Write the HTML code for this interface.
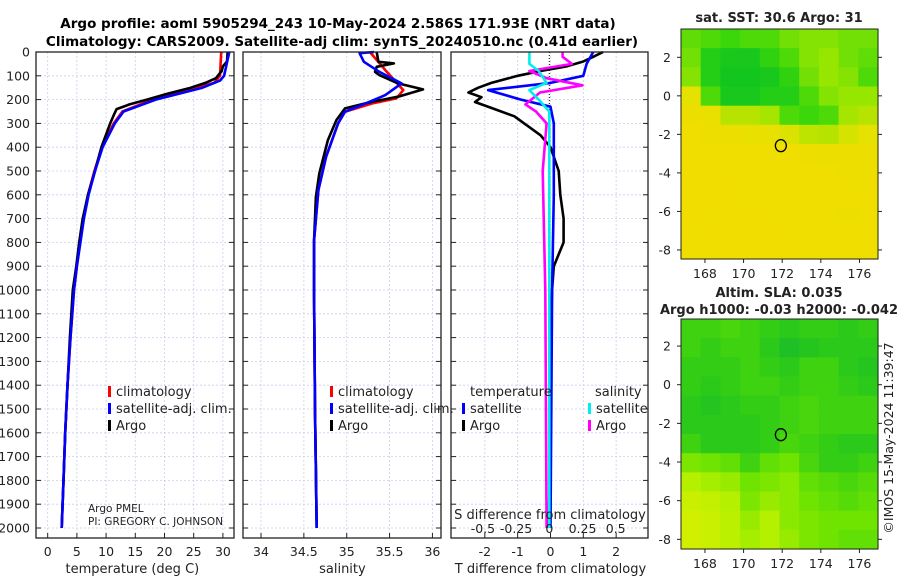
<!DOCTYPE html>
<html><head><meta charset="utf-8">
<style>
html,body{margin:0;padding:0;background:#fff;}
svg{display:block;font-family:"DejaVu Sans","Liberation Sans",sans-serif;}
</style></head>
<body>
<svg id="chart" width="900" height="580" viewBox="0 0 900 580" xmlns="http://www.w3.org/2000/svg">
<rect width="900" height="580" fill="#fff"/>
<text x="338" y="28" font-size="13.5" font-weight="bold" text-anchor="middle">Argo profile: aoml 5905294_243 10-May-2024 2.586S 171.93E (NRT data)</text>
<text x="342" y="46" font-size="13.5" font-weight="bold" text-anchor="middle">Climatology: CARS2009. Satellite-adj clim: synTS_20240510.nc (0.41d earlier)</text>
<g id="g"></g>
</svg>
<script>
// ---------- profile data ----------
const tArgoD = [0,40,60,80,110,130,150,175,200,220,240,260,300,400,500,600,700,800,900,1000,1200,1400,1600,1800,2000];
const tArgoV = [30.8,30.7,30.0,29.8,28.8,27.0,24.5,20.5,17.0,14.0,11.8,11.4,10.7,9.2,8.1,6.9,6.0,5.4,4.9,4.3,3.8,3.4,3.0,2.7,2.4];
const tClimD = [0,100,130,150,200,250,300,400,500,600,700,800,900,1000,1200,1400,1600,1800,2000];
const tClimV = [29.7,29.5,28.5,25.5,18.0,12.8,11.3,9.3,8.0,6.9,6.1,5.5,5.0,4.5,3.9,3.4,3.0,2.7,2.4];
const tSatD = [0,100,120,150,200,250,300,400,500,600,700,800,900,1000,1200,1400,1600,1800,2000];
const tSatV = [31.1,30.2,29.5,26.5,18.5,13.0,11.5,9.4,8.1,7.0,6.2,5.6,5.0,4.5,3.9,3.4,3.0,2.7,2.4];

const sArgoD = [0,41,48,62,83,97,132,157,188,209,237,286,370,510,608,790,1030,1500,2000];
const sArgoV = [35.35,35.37,35.55,35.35,35.33,35.38,35.6,35.89,35.6,35.3,34.98,34.88,34.78,34.68,34.64,34.62,34.62,34.63,34.65];
const sClimD = [0,76,160,195,216,251,300,440,580,790,1030,1500,2000];
const sClimV = [35.27,35.45,35.66,35.58,35.3,34.98,34.9,34.76,34.67,34.62,34.62,34.63,34.65];
const sSatD = [0,5,41,83,132,181,216,251,300,440,580,790,1030,1500,2000];
const sSatV = [35.32,35.15,35.2,35.38,35.64,35.45,35.22,34.98,34.9,34.76,34.67,34.62,34.62,34.63,34.65];

const dTArgoD = [0,20,40,60,80,100,130,150,170,190,210,240,270,300,350,400,500,600,700,800,900,1000,1200,1500,2000];
const dTArgoV = [1.6,1.3,1.0,0.5,-0.3,-1.0,-1.8,-2.2,-2.5,-2.1,-2.3,-1.7,-1.1,-0.8,-0.3,0.0,0.25,0.3,0.4,0.4,0.1,0.05,0.0,0.0,-0.05];
const dTSatD = [0,50,100,130,160,200,230,300,400,600,1000,2000];
const dTSatV = [1.3,1.1,1.0,0.0,-1.9,-0.9,0.0,0.1,0.1,0.1,0.05,0.0];
const dSArgoD = [0,20,50,80,110,140,170,220,250,300,500,1000,2000];
const dSArgoV = [0.1,0.1,0.17,-0.15,-0.02,0.25,-0.07,-0.18,-0.1,-0.02,-0.05,-0.03,-0.02];
const dSSatD = [0,50,80,130,160,200,250,400,1000,2000];
const dSSatV = [-0.15,-0.15,-0.08,-0.02,-0.15,-0.08,0.0,0.0,0.0,0.0];

const depthTicks = [0,100,200,300,400,500,600,700,800,900,1000,1100,1200,1300,1400,1500,1600,1700,1800,1900,2000];
const tTicks = [0,5,10,15,20,25,30];
const sTicks = [34,34.5,35,35.5,36];
const sTickLbl = ["34","34.5","35","35.5","36"];
const dTTicks = [-2,-1,0,1,2];
const dSTicks = [-0.5,-0.25,0,0.25,0.5];
const dSTickLbl = ["-0.5","-0.25","0","0.25","0.5"];

// ---------- map data (rows top->bottom, cols west->east) ----------
const sstGrid = [
[0.35,0.3,0.25,0.3,0.3,0.4,0.45,0.45,0.4,0.4],
[0.4,0.15,0.1,0.1,0.2,0.3,0.45,0.5,0.4,0.35],
[0.45,0.15,0.08,0.08,0.1,0.2,0.4,0.5,0.45,0.3],
[0.75,0.3,0.1,0.1,0.15,0.15,0.3,0.45,0.5,0.5],
[0.85,0.8,0.6,0.6,0.55,0.3,0.25,0.3,0.55,0.6],
[0.9,0.88,0.85,0.82,0.78,0.72,0.62,0.6,0.7,0.75],
[0.92,0.92,0.9,0.9,0.9,0.9,0.88,0.85,0.85,0.85],
[0.93,0.93,0.92,0.92,0.92,0.92,0.9,0.9,0.88,0.88],
[0.93,0.93,0.93,0.92,0.92,0.92,0.92,0.9,0.9,0.9],
[0.93,0.92,0.93,0.93,0.92,0.92,0.92,0.9,0.88,0.9],
[0.92,0.93,0.93,0.93,0.93,0.92,0.92,0.92,0.9,0.9],
[0.9,0.92,0.93,0.93,0.93,0.93,0.92,0.92,0.92,0.9]];
const slaGrid = [
[0.3,0.3,0.35,0.3,0.25,0.2,0.25,0.25,0.2,0.25],
[0.3,0.25,0.3,0.3,0.2,0.1,0.15,0.2,0.2,0.2],
[0.25,0.25,0.25,0.3,0.25,0.2,0.3,0.3,0.2,0.15],
[0.25,0.2,0.25,0.3,0.3,0.25,0.3,0.3,0.25,0.2],
[0.2,0.15,0.2,0.25,0.25,0.3,0.35,0.3,0.3,0.3],
[0.2,0.2,0.2,0.2,0.25,0.3,0.35,0.3,0.3,0.3],
[0.3,0.2,0.2,0.2,0.25,0.35,0.3,0.25,0.2,0.2],
[0.55,0.5,0.45,0.3,0.45,0.5,0.35,0.25,0.25,0.3],
[0.75,0.7,0.65,0.5,0.55,0.6,0.45,0.4,0.35,0.4],
[0.9,0.85,0.75,0.55,0.65,0.6,0.5,0.45,0.4,0.45],
[0.95,0.9,0.8,0.65,0.75,0.6,0.55,0.5,0.5,0.5],
[0.95,0.9,0.8,0.7,0.75,0.65,0.55,0.5,0.45,0.45]];
const lonTicks = [168,170,172,174,176];
const latTicks = [2,0,-2,-4,-6,-8];
const floatLon = [171.93];
const floatLat = [-2.586];

const NS="http://www.w3.org/2000/svg";
const G=document.getElementById('g');
function mk(tag,attrs,parent){const e=document.createElementNS(NS,tag);for(const k in attrs)e.setAttribute(k,attrs[k]);(parent||G).appendChild(e);return e;}
function txt(s,attrs,parent){const e=mk('text',attrs,parent);e.textContent=s;return e;}

const Y0=52, Y1=538, DMAX=(Y1-Y0)/0.238;
const yD = d => Y0 + d*0.238;

function panel(name,x0,x1,vmin,vmax){
  const sx = v => x0 + (v-vmin)/(vmax-vmin)*(x1-x0);
  return {name,x0,x1,sx};
}
const P1 = panel('temperature-panel',36,234,-2,31.9);
const P2 = panel('salinity-panel',243,441,33.79,36.1);
const P3 = panel('difference-panel',451,648,-3.03,2.97);
const sxS3 = v => 549.3 + v*132.8;

function grid(P,ticks){
  const g=mk('g',{});
  
  
  ticks.forEach(t=>{const x=P.sx(t);mk('line',{x1:x,x2:x,y1:Y0,y2:Y1,stroke:'#c8cff0','stroke-width':0.8,'stroke-dasharray':'2,2'},g);});
  depthTicks.forEach(d=>{const y=yD(d);mk('line',{x1:P.x0,x2:P.x1,y1:y,y2:y,stroke:'#c8cff0','stroke-width':0.8,'stroke-dasharray':'2,2'},g);
    mk('line',{x1:P.x0,x2:P.x0+5,y1:y,y2:y,stroke:'#222'},g);mk('line',{x1:P.x1-5,x2:P.x1,y1:y,y2:y,stroke:'#222'},g);});
}
function frame(P){
  const r=mk('rect',{x:P.x0,y:Y0,width:P.x1-P.x0,height:Y1-Y0,fill:'none',stroke:'#222','stroke-width':1.3});
  
  
}
function xTicks(P,ticks,labels,y){
  ticks.forEach((t,i)=>{const x=P.sx(t);
    mk('line',{x1:x,x2:x,y1:Y1,y2:Y1-5,stroke:'#222'});
    const e=txt(labels?labels[i]:String(t),{x:x,y:y,'font-size':12.5,'text-anchor':'middle',fill:'#222'});
    
    
  });
}
function line(xs,ds,sx,color,name){
  const pts=xs.map((v,i)=>sx(v).toFixed(1)+','+yD(ds[i]).toFixed(1)).join(' ');
  const p=mk('polyline',{points:pts,fill:'none',stroke:color,'stroke-width':2.6,'stroke-linejoin':'round'});
  
  
}

[[P1,tTicks],[P2,sTicks],[P3,dTTicks]].forEach(([P,t])=>grid(P,t));
// zero dotted line panel 3
mk('line',{x1:549.3,x2:549.3,y1:Y0,y2:140,stroke:'#000','stroke-width':1,'stroke-dasharray':'1,2'});

line(tClimV,tClimD,P1.sx,'#f00','temp-climatology-line');
line(tArgoV,tArgoD,P1.sx,'#000','temp-argo-line');
line(tSatV,tSatD,P1.sx,'#00f','temp-satellite-line');
line(sClimV,sClimD,P2.sx,'#f00','sal-climatology-line');
line(sArgoV,sArgoD,P2.sx,'#000','sal-argo-line');
line(sSatV,sSatD,P2.sx,'#00f','sal-satellite-line');
line(dTArgoV,dTArgoD,P3.sx,'#000','tdiff-argo-line');
line(dTSatV,dTSatD,P3.sx,'#00f','tdiff-satellite-line');
line(dSArgoV,dSArgoD,sxS3,'#f0f','sdiff-argo-line');
line(dSSatV,dSSatD,sxS3,'#0ee','sdiff-satellite-line');

[P1,P2,P3].forEach(frame);
xTicks(P1,tTicks,null,556);
xTicks(P2,sTicks,sTickLbl,556);
xTicks(P3,dTTicks,null,556);
dSTicks.forEach((t,i)=>{const e=txt(dSTickLbl[i],{x:sxS3(t),y:533,'font-size':12.5,'text-anchor':'middle',fill:'#222'});
  
  });
depthTicks.forEach(d=>{const e=txt(String(d),{x:30,y:yD(d)+4.5,'font-size':12.5,'text-anchor':'end',fill:'#222'});
  
  });

function lab(s,x,y,name,anchor,size){const e=txt(s,{x:x,y:y,'font-size':size||13,'text-anchor':anchor||'middle',fill:'#222'});
  
  return e;}
lab('temperature (deg C)',P1.sx(14.5),573,'x-axis-title-temperature');
lab('salinity',P2.sx(34.95),573,'x-axis-title-salinity');
lab('T difference from climatology',P3.sx(0),573,'x-axis-title-tdiff');
lab('S difference from climatology',550,519,'s-diff-axis-title');
lab('Argo PMEL',88,512,'pi-label-1','start',10.5);
lab('PI: GREGORY C. JOHNSON',88,525,'pi-label-2','start',10.5);

function legendEntry(x,y,color,label,name){
  const g=mk('g',{});
  
  
  mk('rect',{x:x,y:y-10,width:3,height:11,fill:color},g);
  txt(label,{x:x+8,y:y,'font-size':13,fill:'#222'},g);
}
legendEntry(108,396,'#f00','climatology','legend-temp-climatology');
legendEntry(108,413,'#00f','satellite-adj. clim.','legend-temp-satellite');
legendEntry(108,430,'#000','Argo','legend-temp-argo');
legendEntry(330,396,'#f00','climatology','legend-sal-climatology');
legendEntry(330,413,'#00f','satellite-adj. clim.','legend-sal-satellite');
legendEntry(330,430,'#000','Argo','legend-sal-argo');
lab('temperature',470,396,'legend-tdiff-title','start');
lab('salinity',595,396,'legend-sdiff-title','start');
legendEntry(462,413,'#00f','satellite','legend-tdiff-satellite');
legendEntry(462,430,'#000','Argo','legend-tdiff-argo');
legendEntry(588,413,'#0ee','satellite','legend-sdiff-satellite');
legendEntry(588,430,'#f0f','Argo','legend-sdiff-argo');

// ---------- maps ----------
function lerpC(stops,v){v=Math.max(0,Math.min(1,v));const n=stops.length-1;const i=Math.min(n-1,Math.floor(v*n));const f=v*n-i;
  const a=stops[i],b=stops[i+1];return 'rgb('+a.map((c,k)=>Math.round(c+(b[k]-c)*f)).join(',')+')';}
const sstStops=[[0,190,40],[60,215,10],[150,230,0],[230,225,0],[245,220,0]];
const slaStops=[[16,184,48],[50,205,20],[110,228,0],[180,240,0],[215,240,0]];
function map(name,x0,y0,x1,y1,latTop,latBot,gridData,stops){
  const lon0=166.76,lon1=176.96;
  const sx=l=>x0+(l-lon0)/(lon1-lon0)*(x1-x0);
  const sy=l=>y0+(latTop-l)/(latTop-latBot)*(y1-y0);
  const g=mk('g',{});
  
  
  const rows=gridData.length, cols=gridData[0].length;
  const cw=(x1-x0)/cols, ch=(y1-y0)/rows;
  gridData.forEach((row,r)=>row.forEach((v,c)=>{
    const cell=mk('rect',{x:(x0+c*cw).toFixed(2),y:(y0+r*ch).toFixed(2),width:(cw+0.6).toFixed(2),height:(ch+0.6).toFixed(2),fill:lerpC(stops,v)},g);
    
    
  }));
  mk('rect',{x:x0,y:y0,width:x1-x0,height:y1-y0,fill:'none',stroke:'#222','stroke-width':1},g);
  lonTicks.forEach(l=>{const x=sx(l);mk('line',{x1:x,x2:x,y1:y1,y2:y1+4,stroke:'#222'},g);
    txt(String(l),{x:x,y:y1+19,'font-size':12.5,'text-anchor':'middle',fill:'#222'},g);});
  latTicks.forEach(l=>{const y=sy(l);mk('line',{x1:x0-4,x2:x0,y1:y,y2:y,stroke:'#222'},g);mk('line',{x1:x1,x2:x1+4,y1:y,y2:y,stroke:'#222'},g);
    txt(String(l),{x:x0-10,y:y+4.5,'font-size':12.5,'text-anchor':'end',fill:'#222'},g);});
  const c=mk('ellipse',{cx:sx(floatLon[0]),cy:sy(floatLat[0]),rx:5.5,ry:6,fill:'none',stroke:'#000','stroke-width':1.3},g);
  
  
}
map('sst-map',681,29,878,259,3.47,-8.47,sstGrid,sstStops);
map('sla-map',681,319,878,549,3.4,-8.5,slaGrid,slaStops);
lab('sat. SST: 30.6 Argo: 31',779,22,'sst-map-title').setAttribute('font-weight','bold');
lab('Altim. SLA: 0.035',779,297,'sla-map-title-1').setAttribute('font-weight','bold');
lab('Argo h1000: -0.03 h2000: -0.042',779,314,'sla-map-title-2').setAttribute('font-weight','bold');
const ts=lab('©IMOS 15-May-2024 11:39:47',0,0,'timestamp-label','middle',12.5);
ts.setAttribute('transform','translate(893,438) rotate(-90)');
</script>
</body></html>
